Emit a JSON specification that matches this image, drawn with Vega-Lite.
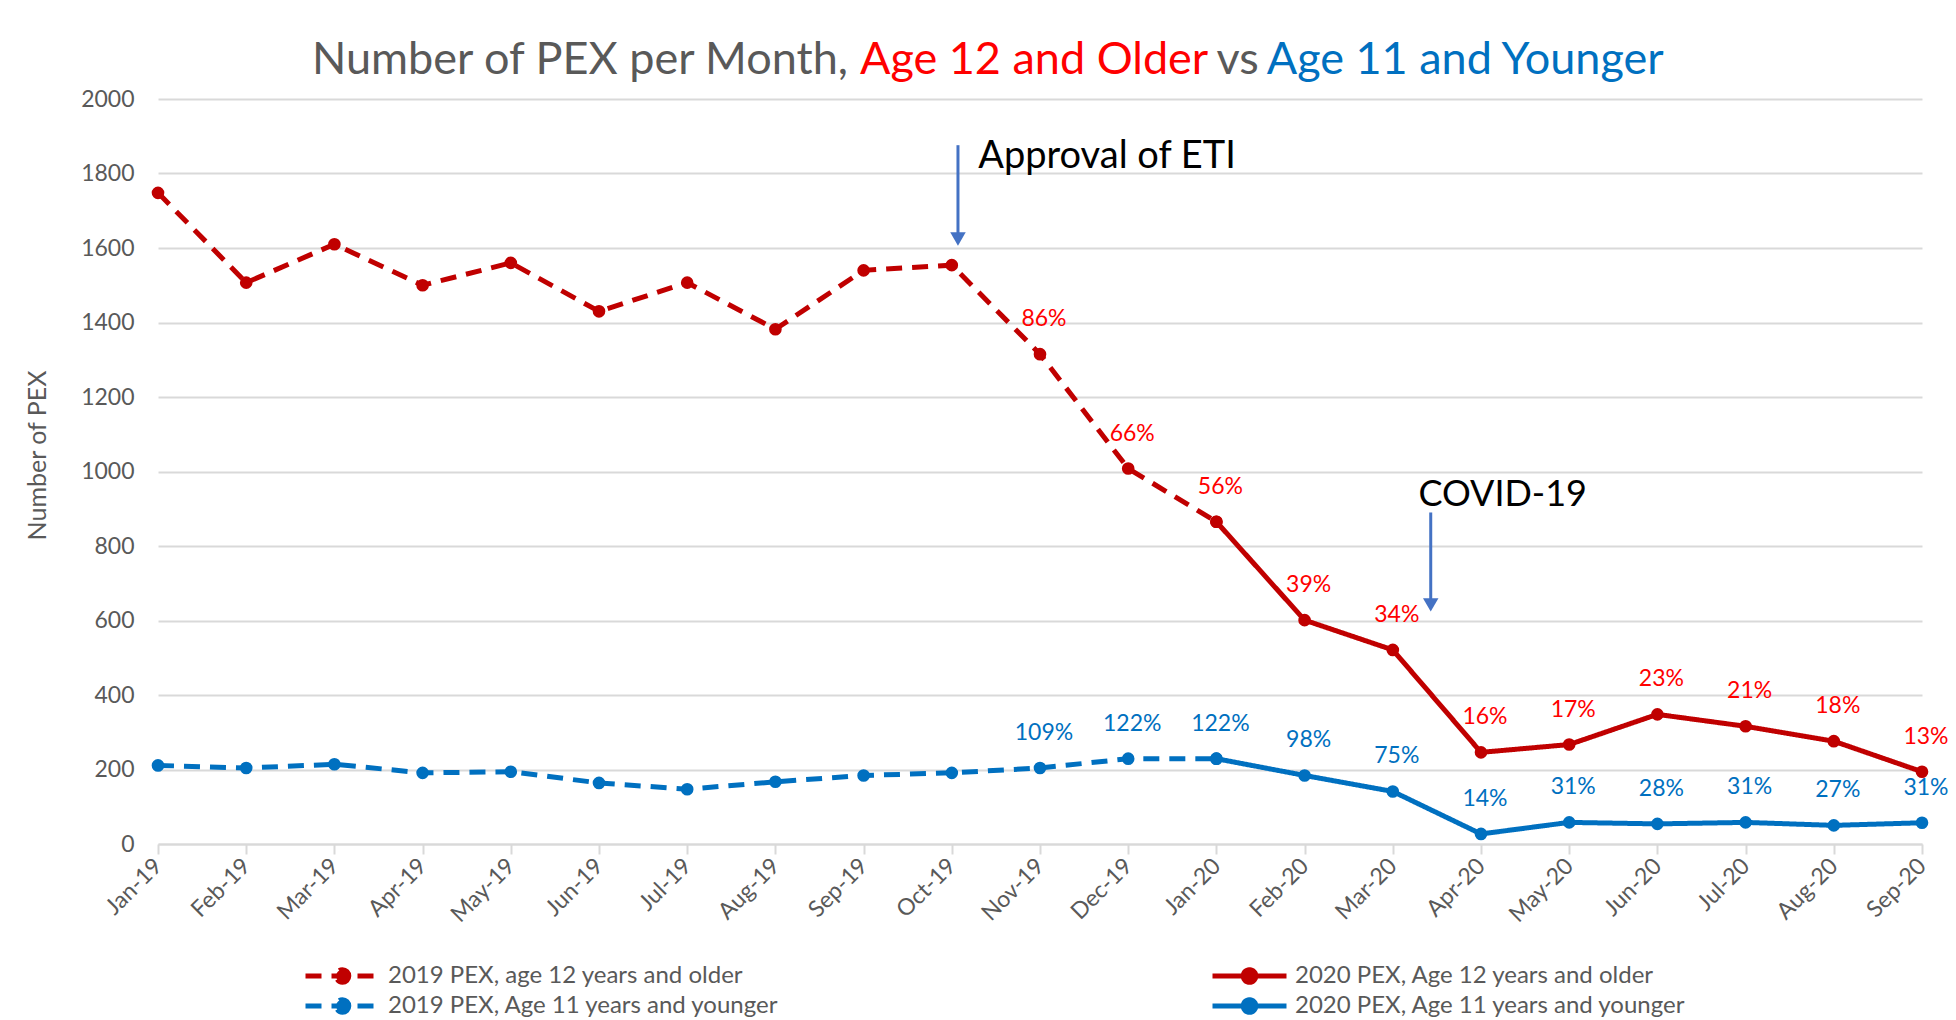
{
  "$schema": "https://vega.github.io/schema/vega-lite/v6.json",
  "width": 1764,
  "height": 745,
  "autosize": {"type": "none"},
  "padding": {"left": 158, "top": 99, "right": 34, "bottom": 176},
  "background": "white",
  "config": {"font": "Lato", "view": {"stroke": null}},
  "datasets": {
    "pex": [
      {"m": 0, "month": "Jan-19", "series": "2019 PEX, age 12 years and older", "grp": "old", "value": 1748},
      {"m": 1, "month": "Feb-19", "series": "2019 PEX, age 12 years and older", "grp": "old", "value": 1507},
      {"m": 2, "month": "Mar-19", "series": "2019 PEX, age 12 years and older", "grp": "old", "value": 1610},
      {"m": 3, "month": "Apr-19", "series": "2019 PEX, age 12 years and older", "grp": "old", "value": 1500},
      {"m": 4, "month": "May-19", "series": "2019 PEX, age 12 years and older", "grp": "old", "value": 1560},
      {"m": 5, "month": "Jun-19", "series": "2019 PEX, age 12 years and older", "grp": "old", "value": 1430},
      {"m": 6, "month": "Jul-19", "series": "2019 PEX, age 12 years and older", "grp": "old", "value": 1507},
      {"m": 7, "month": "Aug-19", "series": "2019 PEX, age 12 years and older", "grp": "old", "value": 1382},
      {"m": 8, "month": "Sep-19", "series": "2019 PEX, age 12 years and older", "grp": "old", "value": 1540},
      {"m": 9, "month": "Oct-19", "series": "2019 PEX, age 12 years and older", "grp": "old", "value": 1554},
      {"m": 10, "month": "Nov-19", "series": "2019 PEX, age 12 years and older", "grp": "old", "value": 1315, "pct": "86%"},
      {"m": 11, "month": "Dec-19", "series": "2019 PEX, age 12 years and older", "grp": "old", "value": 1008, "pct": "66%"},
      {"m": 12, "month": "Jan-20", "series": "2019 PEX, age 12 years and older", "grp": "old", "value": 865},
      {"m": 12, "month": "Jan-20", "series": "2020 PEX, Age 12 years and older", "grp": "old", "value": 865, "pct": "56%"},
      {"m": 13, "month": "Feb-20", "series": "2020 PEX, Age 12 years and older", "grp": "old", "value": 601, "pct": "39%"},
      {"m": 14, "month": "Mar-20", "series": "2020 PEX, Age 12 years and older", "grp": "old", "value": 521, "pct": "34%"},
      {"m": 15, "month": "Apr-20", "series": "2020 PEX, Age 12 years and older", "grp": "old", "value": 246, "pct": "16%"},
      {"m": 16, "month": "May-20", "series": "2020 PEX, Age 12 years and older", "grp": "old", "value": 267, "pct": "17%"},
      {"m": 17, "month": "Jun-20", "series": "2020 PEX, Age 12 years and older", "grp": "old", "value": 348, "pct": "23%"},
      {"m": 18, "month": "Jul-20", "series": "2020 PEX, Age 12 years and older", "grp": "old", "value": 316, "pct": "21%"},
      {"m": 19, "month": "Aug-20", "series": "2020 PEX, Age 12 years and older", "grp": "old", "value": 276, "pct": "18%"},
      {"m": 20, "month": "Sep-20", "series": "2020 PEX, Age 12 years and older", "grp": "old", "value": 194, "pct": "13%"},
      {"m": 0, "month": "Jan-19", "series": "2019 PEX, Age 11 years and younger", "grp": "young", "value": 211},
      {"m": 1, "month": "Feb-19", "series": "2019 PEX, Age 11 years and younger", "grp": "young", "value": 204},
      {"m": 2, "month": "Mar-19", "series": "2019 PEX, Age 11 years and younger", "grp": "young", "value": 214},
      {"m": 3, "month": "Apr-19", "series": "2019 PEX, Age 11 years and younger", "grp": "young", "value": 191},
      {"m": 4, "month": "May-19", "series": "2019 PEX, Age 11 years and younger", "grp": "young", "value": 194},
      {"m": 5, "month": "Jun-19", "series": "2019 PEX, Age 11 years and younger", "grp": "young", "value": 164},
      {"m": 6, "month": "Jul-19", "series": "2019 PEX, Age 11 years and younger", "grp": "young", "value": 147},
      {"m": 7, "month": "Aug-19", "series": "2019 PEX, Age 11 years and younger", "grp": "young", "value": 167},
      {"m": 8, "month": "Sep-19", "series": "2019 PEX, Age 11 years and younger", "grp": "young", "value": 184},
      {"m": 9, "month": "Oct-19", "series": "2019 PEX, Age 11 years and younger", "grp": "young", "value": 191},
      {"m": 10, "month": "Nov-19", "series": "2019 PEX, Age 11 years and younger", "grp": "young", "value": 204, "pct": "109%"},
      {"m": 11, "month": "Dec-19", "series": "2019 PEX, Age 11 years and younger", "grp": "young", "value": 229, "pct": "122%"},
      {"m": 12, "month": "Jan-20", "series": "2019 PEX, Age 11 years and younger", "grp": "young", "value": 229},
      {"m": 12, "month": "Jan-20", "series": "2020 PEX, Age 11 years and younger", "grp": "young", "value": 229, "pct": "122%"},
      {"m": 13, "month": "Feb-20", "series": "2020 PEX, Age 11 years and younger", "grp": "young", "value": 184, "pct": "98%"},
      {"m": 14, "month": "Mar-20", "series": "2020 PEX, Age 11 years and younger", "grp": "young", "value": 141, "pct": "75%"},
      {"m": 15, "month": "Apr-20", "series": "2020 PEX, Age 11 years and younger", "grp": "young", "value": 27, "pct": "14%"},
      {"m": 16, "month": "May-20", "series": "2020 PEX, Age 11 years and younger", "grp": "young", "value": 58, "pct": "31%"},
      {"m": 17, "month": "Jun-20", "series": "2020 PEX, Age 11 years and younger", "grp": "young", "value": 54, "pct": "28%"},
      {"m": 18, "month": "Jul-20", "series": "2020 PEX, Age 11 years and younger", "grp": "young", "value": 58, "pct": "31%"},
      {"m": 19, "month": "Aug-20", "series": "2020 PEX, Age 11 years and younger", "grp": "young", "value": 50, "pct": "27%"},
      {"m": 20, "month": "Sep-20", "series": "2020 PEX, Age 11 years and younger", "grp": "young", "value": 57, "pct": "31%"}
    ]
  },
  "data": {"name": "pex"},
  "layer": [
    {
      "mark": {"type": "line", "strokeWidth": 5, "point": {"filled": true, "size": 160}},
      "encoding": {
        "x": {
          "field": "m", "type": "quantitative",
          "scale": {"domain": [0, 20], "nice": false, "zero": false},
          "axis": {
            "values": [0,1,2,3,4,5,6,7,8,9,10,11,12,13,14,15,16,17,18,19,20],
            "labelExpr": "['Jan-19','Feb-19','Mar-19','Apr-19','May-19','Jun-19','Jul-19','Aug-19','Sep-19','Oct-19','Nov-19','Dec-19','Jan-20','Feb-20','Mar-20','Apr-20','May-20','Jun-20','Jul-20','Aug-20','Sep-20'][datum.value]",
            "labelAngle": -45, "labelAlign": "right", "labelBaseline": "middle",
            "labelPadding": 8, "labelFontSize": 23, "labelColor": "#595959",
            "labelFlush": false, "labelOverlap": false, "labelBound": false,
            "grid": false, "domainColor": "#D9D9D9", "domainWidth": 2,
            "tickColor": "#D9D9D9", "tickWidth": 2, "tickSize": 10, "title": null
          }
        },
        "y": {
          "field": "value", "type": "quantitative",
          "scale": {"domain": [0, 2000], "nice": false},
          "axis": {
            "values": [0,200,400,600,800,1000,1200,1400,1600,1800,2000],
            "format": "d",
            "grid": true, "gridColor": "#D9D9D9", "gridWidth": 2,
            "domain": false, "ticks": false,
            "labelFontSize": 23, "labelColor": "#595959", "labelPadding": 24,
            "title": "Number of PEX", "titleColor": "#595959", "titleFontSize": 25,
            "titleFontWeight": "normal", "titlePadding": 30, "titleY": 356
          }
        },
        "color": {
          "field": "series", "type": "nominal",
          "scale": {
            "domain": ["2019 PEX, age 12 years and older", "2020 PEX, Age 12 years and older", "2019 PEX, Age 11 years and younger", "2020 PEX, Age 11 years and younger"],
            "range": ["#C00000", "#C00000", "#0070C0", "#0070C0"]
          },
          "legend": {
            "title": null, "orient": "none", "legendX": 145, "legendY": 863,
            "columns": 2, "direction": "horizontal", "gridAlign": "all",
            "symbolType": "M-1,0H1M0.17,0A0.17,0.17 0 1 1 -0.17,0A0.17,0.17 0 1 1 0.17,0Z",
            "symbolSize": 5476, "symbolStrokeWidth": 5,
            "labelFontSize": 24, "labelColor": "#595959", "labelOffset": 6, "labelLimit": 0,
            "columnPadding": 430, "rowPadding": 2, "clipHeight": 28,
            "encode": {"symbols": {"update": {"fill": {"scale": "color", "field": "value"}}}}
          }
        },
        "strokeDash": {
          "field": "series", "type": "nominal",
          "scale": {
            "domain": ["2019 PEX, age 12 years and older", "2020 PEX, Age 12 years and older", "2019 PEX, Age 11 years and younger", "2020 PEX, Age 11 years and younger"],
            "range": [[16, 10], [1, 0], [16, 10], [1, 0]]
          },
          "legend": {
            "title": null, "orient": "none", "legendX": 145, "legendY": 863,
            "columns": 2, "direction": "horizontal", "gridAlign": "all",
            "symbolType": "M-1,0H1M0.17,0A0.17,0.17 0 1 1 -0.17,0A0.17,0.17 0 1 1 0.17,0Z",
            "symbolSize": 5476, "symbolStrokeWidth": 5,
            "labelFontSize": 24, "labelColor": "#595959", "labelOffset": 6, "labelLimit": 0,
            "columnPadding": 430, "rowPadding": 2, "clipHeight": 28,
            "encode": {"symbols": {"update": {"fill": {"scale": "color", "field": "value"}}}}
          }
        }
      }
    },
    {
      "transform": [{"filter": "isValid(datum.pct)"}],
      "mark": {"type": "text", "dy": -35, "dx": 4, "fontSize": 23, "baseline": "middle", "align": "center"},
      "encoding": {
        "x": {"field": "m", "type": "quantitative"},
        "y": {"field": "value", "type": "quantitative"},
        "text": {"field": "pct"},
        "color": {"condition": {"test": "datum.grp === 'old'", "value": "#FF0000"}, "value": "#0070C0"}
      }
    },
    {
      "data": {"values": [{}]},
      "mark": {"type": "rule", "color": "#4472C4", "strokeWidth": 3},
      "encoding": {"x": {"datum": 9.07}, "y": {"datum": 1876}, "y2": {"datum": 1630}}
    },
    {
      "data": {"values": [{}]},
      "mark": {"type": "point", "shape": "triangle-down", "filled": true, "color": "#4472C4", "size": 240, "opacity": 1},
      "encoding": {"x": {"datum": 9.07}, "y": {"datum": 1624}}
    },
    {
      "data": {"values": [{}]},
      "mark": {"type": "rule", "color": "#4472C4", "strokeWidth": 3},
      "encoding": {"x": {"datum": 14.43}, "y": {"datum": 890}, "y2": {"datum": 645}}
    },
    {
      "data": {"values": [{}]},
      "mark": {"type": "point", "shape": "triangle-down", "filled": true, "color": "#4472C4", "size": 240, "opacity": 1},
      "encoding": {"x": {"datum": 14.43}, "y": {"datum": 642}}
    },
    {
      "data": {"values": [{}]},
      "mark": {"type": "text", "text": "Approval of ETI", "align": "left", "baseline": "alphabetic", "fontSize": 38, "color": "#000000"},
      "encoding": {"x": {"datum": 9.3}, "y": {"datum": 1815}}
    },
    {
      "data": {"values": [{}]},
      "mark": {"type": "text", "text": "COVID-19", "align": "left", "baseline": "alphabetic", "fontSize": 36, "color": "#000000"},
      "encoding": {"x": {"datum": 14.29}, "y": {"datum": 907}}
    },
    {
      "data": {"values": [{}]},
      "mark": {"type": "text", "text": "Number of PEX per Month,", "align": "left", "baseline": "alphabetic", "fontSize": 45, "color": "#595959"},
      "encoding": {"x": {"datum": 1.746}, "y": {"datum": 2067}}
    },
    {
      "data": {"values": [{}]},
      "mark": {"type": "text", "text": "Age 12 and Older", "align": "left", "baseline": "alphabetic", "fontSize": 45, "color": "#FF0000"},
      "encoding": {"x": {"datum": 7.959}, "y": {"datum": 2067}}
    },
    {
      "data": {"values": [{}]},
      "mark": {"type": "text", "text": "vs", "align": "left", "baseline": "alphabetic", "fontSize": 45, "color": "#595959"},
      "encoding": {"x": {"datum": 12.0}, "y": {"datum": 2067}}
    },
    {
      "data": {"values": [{}]},
      "mark": {"type": "text", "text": "Age 11 and Younger", "align": "left", "baseline": "alphabetic", "fontSize": 45, "color": "#0070C0"},
      "encoding": {"x": {"datum": 12.57}, "y": {"datum": 2067}}
    }
  ]
}
